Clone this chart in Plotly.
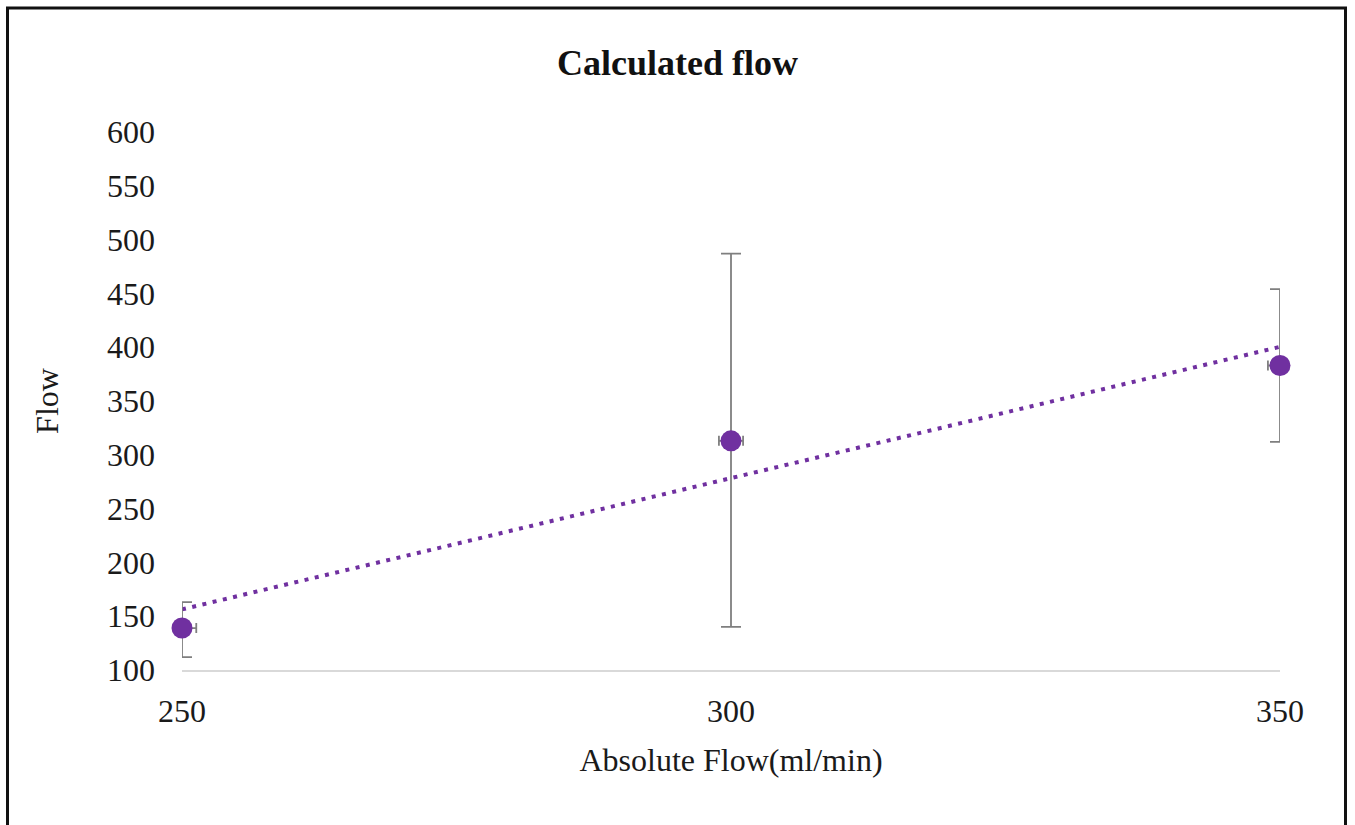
import numpy as np
import plotly.graph_objects as go

x_vals = [250, 300, 350]
y_vals = [139, 313, 383]
y_err_plus = [24, 174, 71]
y_err_minus = [27, 173, 71]
x_err = [1.3, 1.1, 1.1]
title = "Calculated flow"
x_title = "Absolute Flow(ml/min)"
y_title = "Flow"

slope, intercept = np.polyfit(x_vals, y_vals, 1)
trend_x = [min(x_vals), max(x_vals)]
trend_y = [slope * v + intercept for v in trend_x]

font = "Liberation Serif, Times New Roman, serif"
purple = "#7030A0"
txt = "#1a1a1a"

fig = go.Figure()
fig.add_trace(go.Scatter(
    x=trend_x, y=trend_y, mode="lines",
    line=dict(color=purple, width=4, dash="4px,6.5px"),
    hoverinfo="skip", showlegend=False, cliponaxis=False,
))
fig.add_trace(go.Scatter(
    x=x_vals, y=y_vals, mode="markers",
    marker=dict(color=purple, size=21),
    error_y=dict(type="data", symmetric=False, array=y_err_plus, arrayminus=y_err_minus,
                 color="#7f7f7f", thickness=1.8, width=10),
    error_x=dict(type="data", array=x_err, color="#7f7f7f", thickness=1.8, width=5),
    showlegend=False, cliponaxis=False,
))

W, H = 1355, 825
l, r, t, b = 182, 75, 132, 155
pw, ph = W - l - r, H - t - b

def px_x(v):
    return (v - l) / pw

def px_y(v):
    return (H - b - v) / ph

fig.add_shape(type="rect", xref="paper", yref="paper",
              x0=px_x(7.5), x1=px_x(1345.5), y0=px_y(840), y1=px_y(8),
              line=dict(color="#111111", width=3), fillcolor="rgba(0,0,0,0)", layer="above")

fig.update_layout(
    width=W, height=H,
    margin=dict(l=l, r=r, t=t, b=b),
    paper_bgcolor="white", plot_bgcolor="white",
    font=dict(family=font, color=txt),
    title=dict(text="<b>" + title + "</b>", x=0.5, xref="container", xanchor="center",
               y=1 - 62 / H, yanchor="middle", font=dict(size=36, family=font, color="#111111")),
    xaxis=dict(range=[250, 350], tickvals=[250, 300, 350], showgrid=False, zeroline=False,
               showline=True, linecolor="#d9d9d9", linewidth=1.5, ticks="",
               tickfont=dict(size=32, family=font, color=txt), ticklabelstandoff=12,
               title=dict(text=x_title, font=dict(size=32, family=font, color=txt), standoff=20)),
    yaxis=dict(range=[100, 600], dtick=50, showgrid=False, zeroline=False, showline=False,
               ticks="", tickfont=dict(size=32, family=font, color=txt), ticklabelstandoff=26,
               title=dict(text=y_title, font=dict(size=32, family=font, color=txt), standoff=38)),
)

fig.write_html("out.html")
